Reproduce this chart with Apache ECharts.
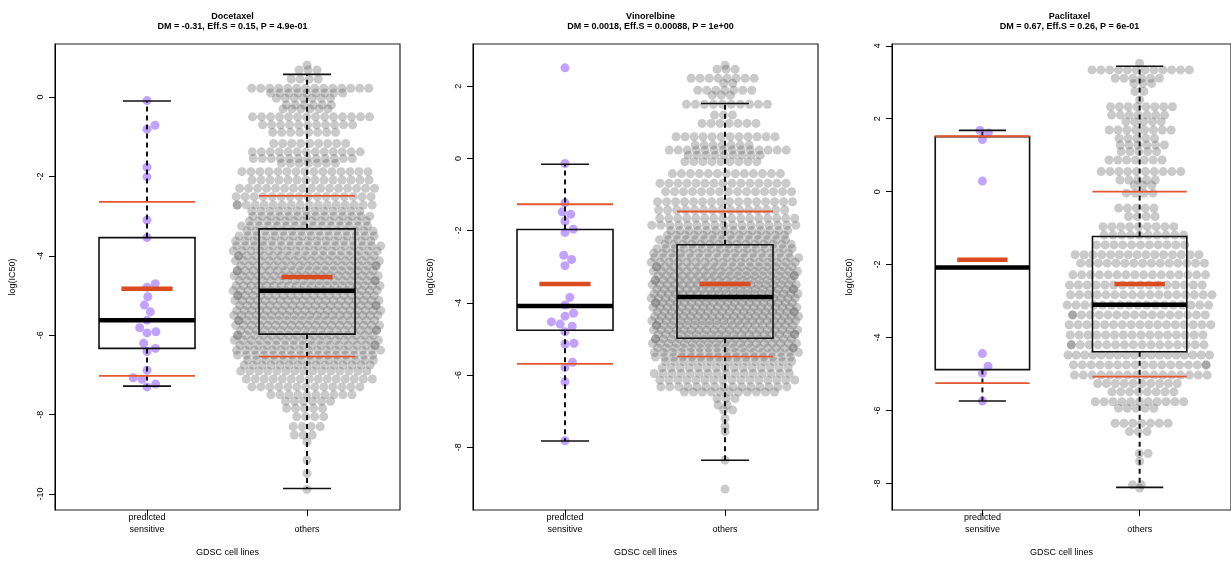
<!DOCTYPE html>
<html>
<head>
<meta charset="utf-8">
<script src="https://cdn.jsdelivr.net/npm/echarts@6/dist/echarts.min.js"></script>
<style>
  html, body { margin: 0; padding: 0; background: #fff; }
  #main { width: 1231px; height: 563px; }
</style>
</head>
<body>
<div id="main"></div>
<script>
// drugs and panel texts
var drugs = ['Docetaxel', 'Vinorelbine', 'Paclitaxel'];
var subtitles = [
  'DM = -0.31, Eff.S = 0.15, P = 4.9e-01',
  'DM = 0.0018, Eff.S = 0.00088, P = 1e+00',
  'DM = 0.67, Eff.S = 0.26, P = 6e-01'
];
var groups = ['predicted\nsensitive', 'others'];
var yTicks = [[0, -2, -4, -6, -8, -10], [2, 0, -2, -4, -6, -8], [4, 2, 0, -2, -4, -6, -8]];
var yRanges = [[-10.4, 1.335], [-9.74, 3.17], [-8.73, 4.05]];

// boxplot stats: [low whisker, Q1, median, Q3, high whisker]
var boxSensitive = [[-7.28, -6.33, -5.62, -3.54, -0.1], [-7.83, -4.76, -4.09, -1.97, -0.16], [-5.74, -4.88, -2.08, 1.51, 1.68]];
var boxOthers = [[-9.86, -5.97, -4.88, -3.32, 0.57], [-8.36, -4.98, -3.84, -2.39, 1.52], [-8.11, -4.39, -3.10, -1.23, 3.44]];

// mean - sd, mean, mean + sd (red lines)
var meanSensitive = [[-7.02, -4.83, -2.64], [-5.69, -3.48, -1.27], [-5.25, -1.87, 1.52]];
var meanOthers = [[-6.54, -4.53, -2.49], [-5.49, -3.48, -1.47], [-5.07, -2.53, 0.0]];

// log(IC50) of predicted sensitive cell lines
var sensitiveDocetaxel = [-0.09, -0.71, -0.81, -1.77, -2.01, -3.10, -3.54, -4.70, -4.79, -5.03, -5.24, -5.41,
  -5.62, -5.81, -5.94, -5.91, -6.20, -6.33, -6.41, -6.88, -7.07, -7.11, -7.23, -7.30];
var sensitiveVinorelbine = [2.51, -0.14, -1.23, -1.48, -1.55, -1.74, -1.96, -2.05, -2.68, -2.80, -2.97, -3.85,
  -4.06, -4.29, -4.37, -4.53, -4.59, -4.65, -4.80, -5.12, -5.14, -5.65, -5.79, -6.19, -7.82];
var sensitivePaclitaxel = [1.68, 1.61, 1.43, 0.29, -4.44, -4.79, -4.98, -5.74];

// others: [log(IC50) level, number of cell lines at that level]
var othersDocetaxel = [
  [0.8, 1], [0.68, 3], [0.45, 4], [0.22, 14], [0.1, 9], [-0.03, 7], [-0.2, 6], [-0.3, 6], [-0.5, 14],
  [-0.7, 11], [-0.89, 8], [-1.17, 9], [-1.38, 13], [-1.55, 12], [-1.67, 7], [-1.88, 15], [-2.09, 14],
  [-2.3, 16], [-2.51, 16], [-2.72, 17],
  [-2.875, 13], [-3.0, 14], [-3.125, 14], [-3.25, 15], [-3.375, 15], [-3.5, 16], [-3.625, 16], [-3.75, 17],
  [-3.875, 17], [-4.0, 18], [-4.125, 18], [-4.25, 18], [-4.375, 19], [-4.5, 19], [-4.625, 19], [-4.75, 20],
  [-4.875, 20], [-5.0, 20], [-5.125, 20], [-5.25, 20], [-5.375, 20], [-5.5, 20], [-5.625, 19], [-5.75, 19],
  [-5.875, 19], [-6.0, 18], [-6.125, 18], [-6.25, 17], [-6.375, 17], [-6.5, 16], [-6.625, 15], [-6.75, 15],
  [-6.9, 15], [-7.1, 15], [-7.3, 13], [-7.5, 10], [-7.66, 6], [-7.84, 5], [-8.05, 4], [-8.3, 4], [-8.51, 3],
  [-8.68, 1], [-9.14, 1], [-9.48, 1], [-9.88, 1]
];
var othersVinorelbine = [
  [2.58, 1], [2.47, 3], [2.22, 8], [2.08, 2], [1.89, 7], [1.75, 3], [1.5, 10], [1.2, 3], [0.97, 7],
  [0.6, 12], [0.37, 7], [0.23, 14], [0.09, 9], [-0.09, 9], [-0.42, 13], [-0.69, 15], [-0.92, 15],
  [-1.2, 16], [-1.43, 15], [-1.66, 16], [-1.85, 17],
  [-2.0, 14], [-2.125, 14], [-2.25, 15], [-2.375, 15], [-2.5, 16], [-2.625, 16], [-2.75, 17], [-2.875, 17],
  [-3.0, 18], [-3.125, 18], [-3.25, 19], [-3.375, 19], [-3.5, 20], [-3.625, 20], [-3.75, 21], [-3.875, 21],
  [-4.0, 21], [-4.125, 21], [-4.25, 21], [-4.375, 21], [-4.5, 21], [-4.625, 20], [-4.75, 20], [-4.875, 20],
  [-5.0, 19], [-5.125, 19], [-5.25, 18], [-5.375, 17], [-5.5, 16], [-5.625, 15],
  [-5.8, 15], [-5.96, 16], [-6.14, 16], [-6.33, 15], [-6.47, 11], [-6.65, 3], [-6.83, 2], [-6.97, 2],
  [-7.2, 1], [-7.42, 1], [-7.57, 1], [-8.36, 1], [-9.16, 1]
];
var othersPaclitaxel = [
  [3.52, 1], [3.34, 12], [3.11, 6], [2.97, 3], [2.75, 2], [2.52, 1], [2.33, 8], [2.1, 7], [1.92, 5],
  [1.69, 8], [1.46, 5], [1.28, 6], [1.1, 5], [0.87, 7], [0.55, 10], [0.32, 5], [0.18, 3], [-0.04, 4],
  [-0.45, 5], [-0.68, 4], [-0.96, 9], [-1.19, 10], [-1.46, 11], [-1.73, 15], [-1.96, 15], [-2.28, 16],
  [-2.56, 16], [-2.83, 17], [-3.11, 17], [-3.38, 17], [-3.65, 17], [-3.93, 16], [-4.2, 17], [-4.48, 18],
  [-4.75, 17], [-5.03, 16], [-5.26, 10], [-5.49, 8], [-5.76, 11], [-5.94, 5], [-6.35, 7], [-6.58, 3],
  [-7.18, 2], [-7.4, 1], [-8.04, 2], [-8.13, 1]
];

var sensitiveAll = [sensitiveDocetaxel, sensitiveVinorelbine, sensitivePaclitaxel];
var othersAll = [othersDocetaxel, othersVinorelbine, othersPaclitaxel];

// layout
var gridLeft = [55, 473, 892];
var gridTop = 44, gridWidth = 345, gridHeight = 466;
var xMin = 0.425, xMax = 2.581;
var dot = 9, halfSpread = 72;
var font = 'Liberation Sans, Arial, sans-serif';

// beeswarm for the few sensitive points (pixel space)
function swarm(values, yPx) {
  var sorted = values.slice().sort(function (a, b) { return a - b; });
  var placed = [];
  var out = [];
  sorted.forEach(function (v) {
    var y = v * yPx;
    var cands = [0];
    placed.forEach(function (p) {
      var dy = Math.abs(p[1] - y);
      if (dy < dot) {
        var dx = Math.sqrt(dot * dot - dy * dy);
        cands.push(p[0] + dx, p[0] - dx);
      }
    });
    cands.sort(function (a, b) { return Math.abs(a) - Math.abs(b); });
    var x = 0;
    for (var i = 0; i < cands.length; i++) {
      var ok = placed.every(function (p) {
        var dx = p[0] - cands[i], dy = p[1] - y;
        return dx * dx + dy * dy >= dot * dot - 0.01;
      });
      if (ok) { x = cands[i]; break; }
    }
    placed.push([x, y]);
    out.push([x, v]);
  });
  return out;
}

// rows of points for the dense "others" group, each row nudged sideways
function rowLayout(list) {
  var out = [];
  list.forEach(function (r, k) {
    var n = r[1];
    var step = (n - 1) * dot <= 2 * halfSpread ? dot : 2 * halfSpread / (n - 1);
    var frac = (k * 0.618034) % 1;
    var shift = n > 1 ? (frac - 0.5) * step : 0;
    for (var i = 0; i < n; i++) {
      var x = (i - (n - 1) / 2) * step + shift;
      if (x > halfSpread + 2) x -= 2 * halfSpread;
      if (x < -halfSpread - 2) x += 2 * halfSpread;
      out.push([x, r[0]]);
    }
  });
  return out;
}

function renderBox(params, api) {
  var x = api.value(0);
  var lo = api.value(1), q1 = api.value(2), med = api.value(3), q3 = api.value(4), hi = api.value(5);
  var mLo = api.value(6), mean = api.value(7), mHi = api.value(8);
  function seg(dx1, dx2, y1, y2, style) {
    var a = api.coord([x + dx1, y1]), b = api.coord([x + dx2, y2]);
    return { type: 'line', shape: { x1: a[0], y1: a[1], x2: b[0], y2: b[1] }, style: style };
  }
  var tl = api.coord([x - 0.3, q3]), br = api.coord([x + 0.3, q1]);
  var dash = { stroke: '#111', lineWidth: 2, lineDash: [5, 4] };
  var thin = { stroke: '#111', lineWidth: 1.6 };
  var red = { stroke: '#e4572e', lineWidth: 1.8 };
  return {
    type: 'group',
    children: [
      seg(0, 0, q3, hi, dash),
      seg(0, 0, q1, lo, dash),
      seg(-0.15, 0.15, hi, hi, thin),
      seg(-0.15, 0.15, lo, lo, thin),
      { type: 'rect', shape: { x: tl[0], y: tl[1], width: br[0] - tl[0], height: br[1] - tl[1] },
        style: { fill: 'none', stroke: '#111', lineWidth: 1.6 } },
      seg(-0.3, 0.3, med, med, { stroke: '#000', lineWidth: 4.5 }),
      seg(-0.3, 0.3, mLo, mLo, red),
      seg(-0.3, 0.3, mHi, mHi, red),
      seg(-0.16, 0.16, mean, mean, { stroke: '#dc4a20', lineWidth: 4.5 })
    ]
  };
}

var chart = echarts.init(document.getElementById('main'));
var option = { animation: false, backgroundColor: '#fff', title: [], grid: [], xAxis: [], yAxis: [], series: [] };

for (var p = 0; p < 3; p++) {
  var xPx = gridWidth / (xMax - xMin);
  var yPx = gridHeight / (yRanges[p][1] - yRanges[p][0]);
  option.title.push({
    text: drugs[p], subtext: subtitles[p],
    left: gridLeft[p] + gridWidth / 2, top: 7, textAlign: 'center', itemGap: 1,
    textStyle: { fontSize: 9, fontWeight: 'bold', color: '#000', fontFamily: font },
    subtextStyle: { fontSize: 9, fontWeight: 'bold', color: '#000', fontFamily: font }
  });
  option.grid.push({
    left: gridLeft[p], top: gridTop, width: gridWidth, height: gridHeight,
    show: true, borderColor: '#222', borderWidth: 1.2
  });
  option.xAxis.push({
    type: 'value', gridIndex: p, min: xMin, max: xMax, position: 'bottom',
    name: 'GDSC cell lines', nameLocation: 'middle', nameGap: 38,
    nameTextStyle: { fontSize: 9, color: '#000', fontFamily: font },
    axisLine: { show: false, onZero: false },
    splitLine: { show: false },
    axisTick: { customValues: [1, 2], length: 6, lineStyle: { color: '#000' } },
    axisLabel: {
      customValues: [1, 2], margin: 26, verticalAlign: 'bottom', lineHeight: 12,
      fontSize: 9, color: '#000', fontFamily: font,
      formatter: function (v) { return groups[Math.round(v) - 1]; }
    }
  });
  option.yAxis.push({
    type: 'value', gridIndex: p, min: yRanges[p][0], max: yRanges[p][1], position: 'left',
    name: 'log(IC50)', nameLocation: 'middle', nameGap: 38, nameRotate: 90,
    nameTextStyle: { fontSize: 9, color: '#000', fontFamily: font },
    axisLine: { show: true, onZero: false, lineStyle: { color: '#000', width: 1 } },
    splitLine: { show: false },
    axisTick: { customValues: yTicks[p], length: 6, lineStyle: { color: '#000' } },
    axisLabel: { customValues: yTicks[p], rotate: 90, margin: 10, fontSize: 9, color: '#000', fontFamily: font }
  });

  var grayPts = rowLayout(othersAll[p]).map(function (d) { return [2 + d[0] / xPx, d[1]]; });
  var purplePts = swarm(sensitiveAll[p], yPx).map(function (d) { return [1 + d[0] / xPx, d[1]]; });

  option.series.push({
    type: 'scatter', xAxisIndex: p, yAxisIndex: p, silent: true, z: 2,
    symbol: 'circle', symbolSize: dot, data: grayPts,
    itemStyle: { color: 'rgba(100,100,100,0.43)' }
  });
  option.series.push({
    type: 'scatter', xAxisIndex: p, yAxisIndex: p, silent: true, z: 2,
    symbol: 'circle', symbolSize: dot, data: purplePts,
    itemStyle: { color: 'rgba(160,110,255,0.8)' }
  });
  option.series.push({
    type: 'custom', xAxisIndex: p, yAxisIndex: p, silent: true, z: 3,
    renderItem: renderBox,
    encode: { x: 0, y: [1, 2, 3, 4, 5] },
    data: [
      [1].concat(boxSensitive[p], meanSensitive[p]),
      [2].concat(boxOthers[p], meanOthers[p])
    ]
  });
}

chart.setOption(option);
</script>
</body>
</html>
